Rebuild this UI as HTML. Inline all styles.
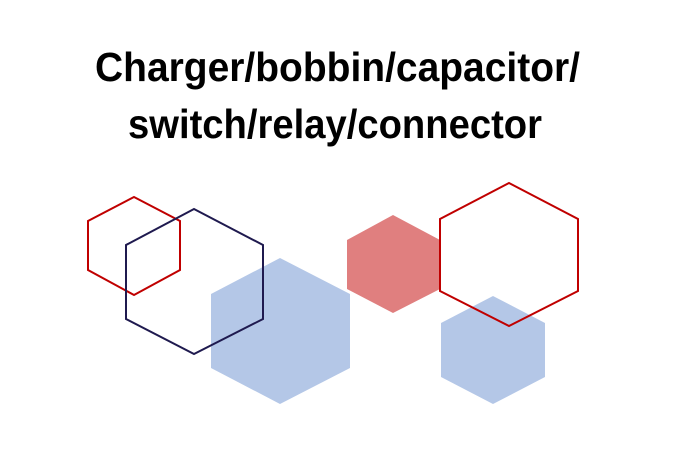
<!DOCTYPE html>
<html><head><meta charset="utf-8"><style>
html,body{margin:0;padding:0;background:#fff;}
svg{display:block;}
</style></head><body>
<svg width="685" height="454" viewBox="0 0 685 454" xmlns="http://www.w3.org/2000/svg">
<rect width="685" height="454" fill="#fff"/>
<g font-family="Liberation Sans, sans-serif" font-weight="bold" font-size="41" fill="#000">
<text x="95" y="81" textLength="485" lengthAdjust="spacingAndGlyphs">Charger/bobbin/capacitor/</text>
<text x="128" y="138" textLength="414" lengthAdjust="spacingAndGlyphs">switch/relay/connector</text>
</g>
<polygon points="280,258 350,294 350,368 280,404 211,368 211,294" fill="#b4c7e7"/>
<polygon points="493,296 545,323 545,377 493,404 441,377 441,323" fill="#b4c7e7"/>
<polygon points="393,215 440,240 440,289 393,313 347,289 347,240" fill="#e07f7f"/>
<polygon points="134,197 180,221 180,270 134,295 88,270 88,221" fill="none" stroke="#c00000" stroke-width="2"/>
<polygon points="194,209 263,245 263,319 194,354 126,319 126,245" fill="none" stroke="#1f1a4f" stroke-width="2"/>
<polygon points="509,183 578,219 578,291 509,326 440,291 440,219" fill="none" stroke="#c00000" stroke-width="2"/>
</svg>
</body></html>
